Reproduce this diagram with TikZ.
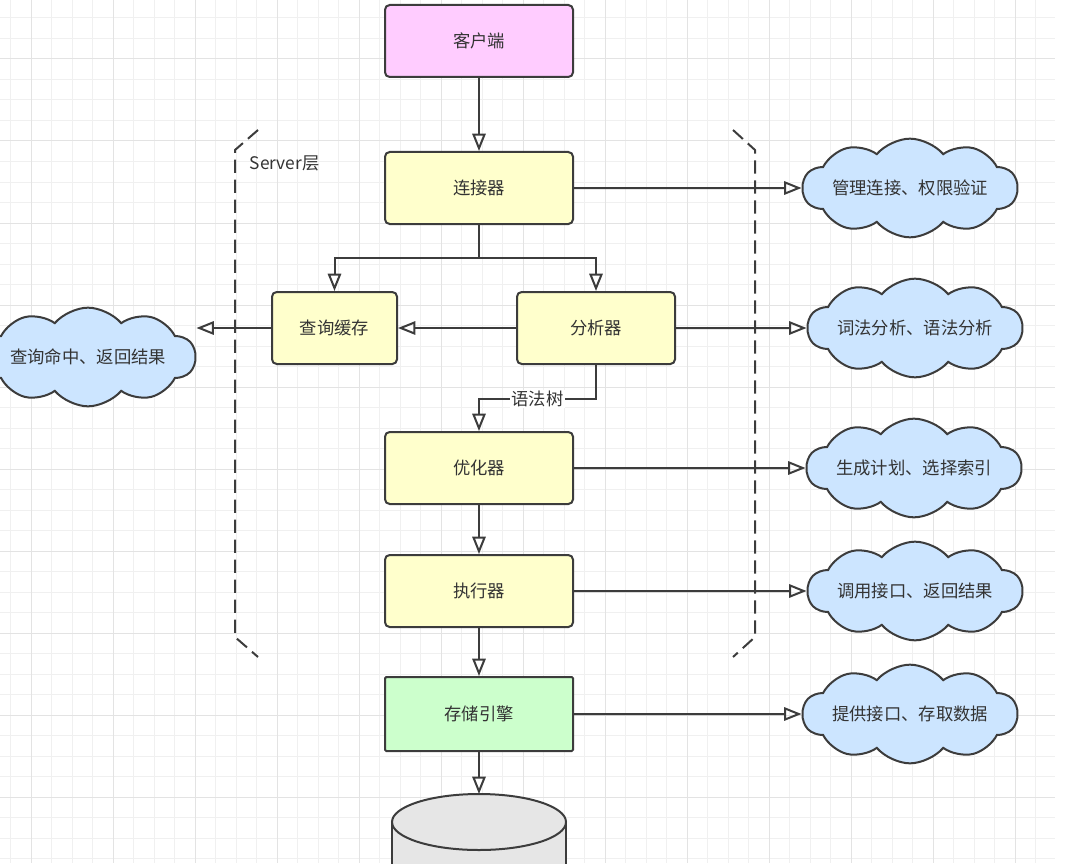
\documentclass[tikz,border=0pt]{standalone}
\usepackage{fontspec}
\setmainfont{Noto Sans CJK SC}
\usetikzlibrary{shapes.symbols,arrows.meta}
\definecolor{linegray}{HTML}{3C3C3C}
\definecolor{textgray}{HTML}{333333}
\definecolor{clientpink}{HTML}{FFCCFF}
\definecolor{boxyellow}{HTML}{FFFFCC}
\definecolor{storegreen}{HTML}{CCFFCC}
\definecolor{cloudblue}{HTML}{CCE5FF}
\definecolor{diskgray}{HTML}{E6E6E6}
\definecolor{gridminor}{HTML}{F0F0F0}
\definecolor{gridmajor}{HTML}{E3E3E3}
\begin{document}
\begin{tikzpicture}[x=0.75pt,y=-0.75pt,
  box/.style={draw=linegray,line width=1.5pt,rounded corners=3.5pt,fill=boxyellow,
    minimum width=141pt,minimum height=54pt,text=textgray,font=\fontsize{13}{15}\selectfont},
  note/.style={cloud,cloud puffs=10,cloud puff arc=100,cloud ignores aspect,draw=linegray,line width=1.5pt,
    fill=cloudblue,minimum width=161pt,minimum height=74pt,inner sep=0pt,
    label={[text=textgray,font=\fontsize{13}{15}\selectfont]center:#1}},
  flow/.style={draw=linegray,line width=1.5pt,-{Triangle[open,length=13pt,width=10pt]}},
  bracket/.style={draw=linegray,line width=1.5pt,dash pattern=on 10pt off 5pt}]
\useasboundingbox (0,0) rectangle (1066,863);
\clip (0,0) rectangle (1066,863);
\foreach \x in {10.5,31,...,1055} \draw[gridminor,line width=0.75pt] (\x,0) -- (\x,863);
\foreach \y in {18,38.5,...,863} \draw[gridminor,line width=0.75pt] (0,\y) -- (1055,\y);
\foreach \x in {31,113,...,1055} \draw[gridmajor,line width=0.75pt] (\x,0) -- (\x,863);
\foreach \y in {59,141,...,863} \draw[gridmajor,line width=0.75pt] (0,\y) -- (1055,\y);
\node[box,fill=clientpink] (client) at (479,41) {客户端};
\node[box] (conn) at (479,188) {连接器};
\node[box,minimum width=93.75pt] (cache) at (334.5,328) {查询缓存};
\node[box,minimum width=118.5pt] (parser) at (596,328) {分析器};
\node[box] (opt) at (479,468) {优化器};
\node[box] (exec) at (479,591) {执行器};
\node[box,fill=storegreen,rounded corners=1pt,minimum height=55.5pt] (store) at (479,714) {存储引擎};
\fill[diskgray] (392,822) rectangle (566,870);
\draw[linegray,line width=1.5pt] (392,822) -- (392,870) (566,822) -- (566,870);
\draw[linegray,line width=1.5pt,fill=diskgray] (479,822) ellipse [x radius=87,y radius=28];
\coordinate (disk) at (479,794);
\node[note=管理连接、权限验证] (auth) at (910,188) {};
\node[note=词法分析、语法分析] (lex) at (915,328) {};
\node[note=生成计划、选择索引] (plan) at (914,468) {};
\node[note=调用接口、返回结果] (call) at (915,591) {};
\node[note=提供接口、存取数据] (api) at (910,714) {};
\node[note=查询命中、返回结果] (hit) at (88,357) {};
\node[anchor=west,text=textgray,font=\fontsize{13}{15}\selectfont] (server) at (245,163) {Server层};
\draw[bracket] (258,130) -- (235,150) -- (235,637) -- (258,657);
\draw[bracket] (733,130) -- (755,150) -- (755,637) -- (733,657);
\coordinate (split) at (479,258);
\coordinate (bend) at (479,399);
\draw[flow] (client) -- (conn);
\draw[flow] (conn) -- (auth);
\draw[flow] (conn.south) -- (split) -| (cache.north);
\draw[flow] (split) -| (parser.north);
\draw[flow] (parser) -- (cache);
\draw[flow] (cache.west) -- (cache.west -| hit.east);
\draw[flow] (parser) -- (lex);
\draw[flow] (parser.south) |- node[pos=0.75,fill=white,inner sep=1pt,text=textgray,font=\fontsize{13}{15}\selectfont] {语法树} (bend) -- (opt.north);
\draw[flow] (opt) -- (plan);
\draw[flow] (opt) -- (exec);
\draw[flow] (exec) -- (call);
\draw[flow] (exec) -- (store);
\draw[flow] (store) -- (api);
\draw[flow] (store) -- (disk);
\end{tikzpicture}
\end{document}
